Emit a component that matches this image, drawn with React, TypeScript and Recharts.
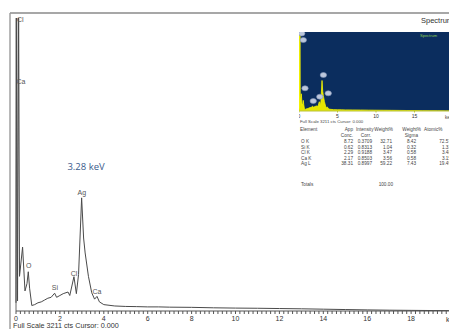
import React from 'react';
import { LineChart, Line, AreaChart, Area, XAxis, YAxis, ReferenceDot, ReferenceLine, ReferenceArea } from 'recharts';

// spectrum: energy (keV) and counts
const energyKeV = [
  0.0, 0.03, 0.07, 0.12, 0.16, 0.3, 0.41, 0.5, 0.56, 0.62, 0.72, 0.85, 1.0, 1.15, 1.3, 1.45, 1.6, 1.76,
  1.85, 2.0, 2.15, 2.37, 2.45, 2.64, 2.75, 2.85, 2.99, 3.08, 3.15, 3.3, 3.45, 3.58, 3.69, 3.8, 4.0,
  4.5, 5.0, 5.5, 6.0, 6.5, 7.0, 8.0, 9.0, 10.0, 11.0, 12.0, 13.0, 14.0, 15.0, 16.0, 17.0, 18.0, 19.0, 20.0,
];
const counts = [
  90, 3400, 110, 3400, 380, 700, 220, 300, 430, 250, 60, 70, 90, 100, 120, 140, 150, 195,
  150, 170, 190, 208, 170, 376, 190, 400, 1240, 800, 636, 380, 200, 130, 160, 100, 70,
  55, 50, 48, 45, 45, 42, 40, 35, 32, 30, 27, 24, 20, 16, 12, 9, 7, 5, 4,
];

// element labels on the main spectrum (label centre in keV / counts)
const peakNames = ['Cl', 'Ca', 'O', 'Si', 'Cl', 'Ag', 'Ca'];
const peakKeV = [0.2, 0.23, 0.58, 1.77, 2.64, 3.0, 3.69];
const peakCounts = [3189, 2510, 496, 258, 413, 1299, 212];

// markers on the small spectrum inset
const insetMarkKeV = [0.35, 0.56, 0.78, 1.85, 2.7, 3.17, 3.8];
const insetMarkCounts = [3150, 2886, 923, 406, 581, 1463, 719];

const majorTicks = [0, 2, 4, 6, 8, 10, 12, 14, 16, 18];
const insetTicks = [0, 5, 10, 15];

// quantification table
const elements = ['O K', 'Si K', 'Cl K', 'Ca K', 'Ag L'];
const appConc = ['8.72', '0.62', '2.29', '2.17', '38.31'];
const intensityCorr = ['0.3709', '0.8313', '0.9188', '0.8503', '0.8997'];
const weightPct = ['32.71', '1.04', '3.47', '3.56', '59.22'];
const weightSigma = ['8.42', '0.32', '0.58', '0.58', '7.43'];
const atomicPct = ['72.57', '1.31', '3.48', '3.15', '19.49'];

const FULL_SCALE = 3211;
const font = '"Liberation Sans", Arial, sans-serif';

const data = energyKeV.map((kev, i) => ({ kev, counts: counts[i] }));
const minorTicks: number[] = [];
for (let i = 0; i <= 100; i++) minorTicks.push(i / 5);

const Ellipse = (props: any) => (
  <ellipse cx={props.cx} cy={props.cy} rx={3.2} ry={2.5} fill="#bcc7dc" stroke="#8496b8" strokeWidth={0.6} />
);

const App: React.FC = () => {
  const rowY = [143, 148.5, 154, 159.5, 165];
  return (
    <div style={{ position: 'fixed', left: 0, top: 0, width: 449, height: 329, overflow: 'hidden', background: '#fff', fontFamily: font }}>
      <svg width={449} height={329} style={{ position: 'absolute', left: 0, top: 0 }}>
        <line x1={10} y1={13} x2={449} y2={13} stroke="#8a8a8a" strokeWidth={1.6} />
        <line x1={10} y1={13} x2={10} y2={329} stroke="#9a9a9a" strokeWidth={1.4} />
      </svg>

      <div style={{ position: 'absolute', left: 0, top: 0 }}>
        <LineChart width={460} height={329} data={data} margin={{ top: 18, right: 5, left: 16, bottom: 0 }}>
          <XAxis
            type="number"
            dataKey="kev"
            domain={[0, 20]}
            ticks={minorTicks}
            interval={0}
            tickSize={3}
            height={18}
            stroke="#555"
            tickFormatter={(v: number) => (majorTicks.some((t) => Math.abs(t - v) < 1e-6) ? String(Math.round(v)) : '')}
            tick={{ fontSize: 7, fill: '#333', fontFamily: font }}
          />
          <YAxis hide domain={[0, FULL_SCALE]} allowDataOverflow />
          <ReferenceLine x={0} stroke="#666" strokeWidth={1} />
          <Line type="linear" dataKey="counts" stroke="#4a4a4a" strokeWidth={1} dot={false} isAnimationActive={false} />
          {peakNames.map((name, i) => (
            <ReferenceDot
              key={i}
              x={peakKeV[i]}
              y={peakCounts[i]}
              r={0}
              ifOverflow="visible"
              label={{ value: name, position: 'center', fontSize: 7, fill: '#555', fontFamily: font }}
            />
          ))}
          <ReferenceDot
            x={3.19}
            y={1584}
            r={0}
            label={{ value: '3.28 keV', position: 'center', fontSize: 9.5, fill: '#3b5b8c', fontFamily: '"Open Sans", sans-serif' }}
          />
        </LineChart>
      </div>

      <div style={{ position: 'absolute', left: 299, top: 32 }}>
        <AreaChart width={160} height={88} data={data} margin={{ top: 0, right: 6, left: 0, bottom: 0 }}>
          <XAxis
            type="number"
            dataKey="kev"
            domain={[0, 20]}
            ticks={insetTicks}
            interval={0}
            tickSize={1.5}
            height={9}
            stroke="#b9c23a"
            tick={{ fontSize: 5, fill: '#333', fontFamily: font }}
          />
          <YAxis hide domain={[0, FULL_SCALE]} allowDataOverflow />
          <ReferenceArea x1={0} x2={20} y1={0} y2={FULL_SCALE} fill="#0b2d5e" fillOpacity={1} stroke="none" />
          <Area type="linear" dataKey="counts" stroke="#f4f400" strokeWidth={0.8} fill="#e6e600" fillOpacity={1} dot={false} isAnimationActive={false} />
          {insetMarkKeV.map((kev, i) => (
            <ReferenceDot key={i} x={kev} y={insetMarkCounts[i]} ifOverflow="visible" shape={<Ellipse />} />
          ))}
        </AreaChart>
      </div>

      <svg width={449} height={329} style={{ position: 'absolute', left: 0, top: 0 }} fontFamily={font}>
        <text x={421} y={23} fontSize={7.5} fill="#333">Spectrum</text>
        <text x={420} y={37} fontSize={4} fill="#8fd14f">Spectrum</text>
        <text x={300} y={123} fontSize={4.3} fill="#444">Full Scale 3211 cts Cursor: 0.000</text>
        <text x={445} y={118.5} fontSize={4.5} fill="#444">keV</text>
        <text x={13} y={328} fontSize={7.2} fill="#333">Full Scale 3211 cts Cursor: 0.000</text>
        <text x={446} y={322} fontSize={7} fill="#333">keV</text>

        <g fontSize={4.7} fill="#444">
          <text x={300} y={131}>Element</text>
          <text x={353} y={131} textAnchor="end">App</text>
          <text x={373.5} y={131} textAnchor="end">Intensity</text>
          <text x={393} y={131} textAnchor="end">Weight%</text>
          <text x={421} y={131} textAnchor="end">Weight%</text>
          <text x={424} y={131}>Atomic%</text>
          <text x={353} y={137} textAnchor="end">Conc.</text>
          <text x={371} y={137} textAnchor="end">Corr.</text>
          <text x={418} y={137} textAnchor="end">Sigma</text>
          {elements.map((el, i) => (
            <g key={el}>
              <text x={301} y={rowY[i]}>{el}</text>
              <text x={353} y={rowY[i]} textAnchor="end">{appConc[i]}</text>
              <text x={372} y={rowY[i]} textAnchor="end">{intensityCorr[i]}</text>
              <text x={392} y={rowY[i]} textAnchor="end">{weightPct[i]}</text>
              <text x={416} y={rowY[i]} textAnchor="end">{weightSigma[i]}</text>
              <text x={451} y={rowY[i]} textAnchor="end">{atomicPct[i]}</text>
            </g>
          ))}
          <text x={301} y={186}>Totals</text>
          <text x={393} y={186} textAnchor="end">100.00</text>
        </g>
      </svg>
    </div>
  );
};

export default App;
